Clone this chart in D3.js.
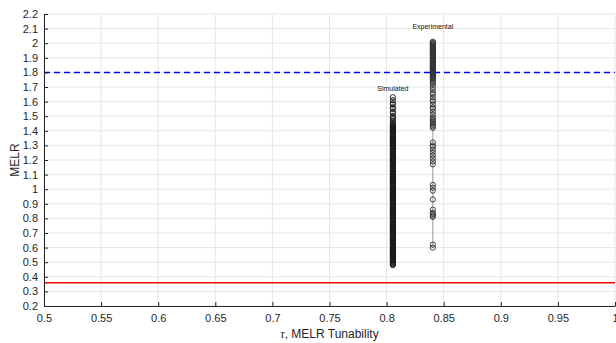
<!DOCTYPE html>
<html>
<head>
<meta charset="utf-8">
<script src="https://cdn.jsdelivr.net/npm/d3@7"></script>
<style>
  html, body { margin: 0; padding: 0; background: #fff; }
  svg { display: block; font-family: "Liberation Sans", Arial, sans-serif; }
</style>
</head>
<body>
<svg id="chart" width="616" height="343"></svg>
<script>
// Axis ticks
const xTicks = [0.5, 0.55, 0.6, 0.65, 0.7, 0.75, 0.8, 0.85, 0.9, 0.95, 1];
const yTicks = [0.2, 0.3, 0.4, 0.5, 0.6, 0.7, 0.8, 0.9, 1, 1.1, 1.2, 1.3, 1.4, 1.5, 1.6, 1.7, 1.8, 1.9, 2, 2.1, 2.2];

// Reference levels
const upperLimit = 1.8;   // blue dashed
const lowerLimit = 0.36;  // red solid

// Simulated runs
const simTau = 0.8055;
const simMELR = [
  1.63, 1.61, 1.59, 1.58, 1.56, 1.55, 1.53, 1.52, 1.50, 1.49, 1.48, 1.465, 1.455,
  1.445, 1.44, 1.435, 1.43, 1.425, 1.42, 1.415, 1.41, 1.405, 1.40, 1.395, 1.39, 1.385,
  1.38, 1.375, 1.37, 1.365, 1.36, 1.355, 1.35, 1.345, 1.34, 1.335, 1.33, 1.325, 1.32,
  1.315, 1.31, 1.305, 1.30, 1.295, 1.29, 1.285, 1.28, 1.275, 1.27, 1.265, 1.26, 1.255,
  1.25, 1.245, 1.24, 1.235, 1.23, 1.225, 1.22, 1.215, 1.21, 1.205, 1.20, 1.195, 1.19,
  1.185, 1.18, 1.175, 1.17, 1.165, 1.16, 1.155, 1.15, 1.145, 1.14, 1.135, 1.13, 1.125,
  1.12, 1.115, 1.11, 1.105, 1.10, 1.095, 1.09, 1.085, 1.08, 1.075, 1.07, 1.065, 1.06,
  1.055, 1.05, 1.045, 1.04, 1.035, 1.03, 1.025, 1.02, 1.015, 1.01, 1.005, 1.00, 0.995,
  0.99, 0.985, 0.98, 0.975, 0.97, 0.965, 0.96, 0.955, 0.95, 0.945, 0.94, 0.935, 0.93,
  0.925, 0.92, 0.915, 0.91, 0.905, 0.90, 0.895, 0.89, 0.885, 0.88, 0.875, 0.87, 0.865,
  0.86, 0.855, 0.85, 0.845, 0.84, 0.835, 0.83, 0.825, 0.82, 0.815, 0.81, 0.805, 0.80,
  0.795, 0.79, 0.785, 0.78, 0.775, 0.77, 0.765, 0.76, 0.755, 0.75, 0.745, 0.74, 0.735,
  0.73, 0.725, 0.72, 0.715, 0.71, 0.705, 0.70, 0.695, 0.69, 0.685, 0.68, 0.675, 0.67,
  0.665, 0.66, 0.655, 0.65, 0.645, 0.64, 0.635, 0.63, 0.625, 0.62, 0.615, 0.61, 0.605,
  0.60, 0.595, 0.59, 0.585, 0.58, 0.575, 0.57, 0.565, 0.56, 0.555, 0.55, 0.545, 0.54,
  0.535, 0.53, 0.525, 0.52, 0.515, 0.51, 0.505, 0.50, 0.495, 0.49, 0.485, 0.48
];

// Experimental runs
const expTau = 0.8405;
const expMELR = [
  2.01, 2.005, 2.00, 1.995, 1.99, 1.985, 1.98, 1.975, 1.97, 1.965, 1.96, 1.955, 1.95,
  1.945, 1.94, 1.935, 1.93, 1.925, 1.92, 1.915, 1.91, 1.905, 1.90, 1.895, 1.89, 1.885,
  1.88, 1.875, 1.87, 1.865, 1.86, 1.855, 1.85, 1.845, 1.84, 1.835, 1.83, 1.825, 1.82,
  1.815, 1.81, 1.805, 1.80, 1.795, 1.79, 1.785, 1.78, 1.775, 1.77, 1.765, 1.76, 1.75,
  1.74, 1.73, 1.72, 1.70, 1.68, 1.66, 1.65, 1.63, 1.61, 1.60, 1.58, 1.56, 1.55, 1.53,
  1.51, 1.49, 1.48, 1.47, 1.46, 1.45, 1.44, 1.43, 1.42,
  1.32, 1.30, 1.29, 1.27, 1.25, 1.23, 1.21, 1.19, 1.17,
  1.03, 1.01, 0.99, 0.93,
  0.86, 0.84, 0.83, 0.82, 0.81,
  0.62, 0.60
];

const svg = d3.select("#chart");
const margin = { left: 44, right: 1, top: 14, bottom: 37 };
const W = 616, H = 343;
const x = d3.scaleLinear().domain([0.5, 1]).range([margin.left, W - margin.right]);
const y = d3.scaleLinear().domain([0.2, 2.2]).range([H - margin.bottom, margin.top]);

const axisColor = "#262626";
const gridColor = "#e6e6e6";

// Grid
const grid = svg.append("g");
grid.selectAll("line.gx").data(xTicks).join("line")
  .attr("x1", d => x(d)).attr("x2", d => x(d))
  .attr("y1", y(0.2)).attr("y2", y(2.2))
  .attr("stroke", gridColor).attr("stroke-width", 1);
grid.selectAll("line.gy").data(yTicks).join("line")
  .attr("x1", x(0.5)).attr("x2", x(1))
  .attr("y1", d => y(d)).attr("y2", d => y(d))
  .attr("stroke", gridColor).attr("stroke-width", 1);

// Reference lines
svg.append("line")
  .attr("x1", x(0.5)).attr("x2", x(1))
  .attr("y1", y(upperLimit)).attr("y2", y(upperLimit))
  .attr("stroke", "#0000ff").attr("stroke-width", 1.5)
  .attr("stroke-dasharray", "6,4");
svg.append("line")
  .attr("x1", x(0.5)).attr("x2", x(1))
  .attr("y1", y(lowerLimit)).attr("y2", y(lowerLimit))
  .attr("stroke", "#ff0000").attr("stroke-width", 1.5);

// Series: markers joined by a thin line
function series(tau, values, color) {
  const g = svg.append("g");
  const ext = d3.extent(values);
  g.append("line")
    .attr("x1", x(tau)).attr("x2", x(tau))
    .attr("y1", y(ext[0])).attr("y2", y(ext[1]))
    .attr("stroke", "#999").attr("stroke-width", 1);
  g.selectAll("circle").data(values).join("circle")
    .attr("cx", x(tau)).attr("cy", d => y(d)).attr("r", 2.6)
    .attr("fill", "none").attr("stroke", color).attr("stroke-width", 0.9);
  return g;
}
series(simTau, simMELR, "#1a1a1a");
series(expTau, expMELR, "#333");

// Series labels
svg.append("text").attr("x", x(simTau)).attr("y", y(d3.max(simMELR)) - 6)
  .attr("text-anchor", "middle").attr("font-size", 7).attr("fill", "#111")
  .text("Simulated");
svg.append("text").attr("x", x(expTau)).attr("y", y(d3.max(expMELR)) - 13)
  .attr("text-anchor", "middle").attr("font-size", 7).attr("fill", "#111")
  .text("Experimental");

// Axes (ticks pointing inward)
const xAxis = d3.axisBottom(x).tickValues(xTicks).tickFormat(d3.format("~g"))
  .tickSizeInner(-4).tickSizeOuter(0).tickPadding(8);
const yAxis = d3.axisLeft(y).tickValues(yTicks).tickFormat(d3.format("~g"))
  .tickSizeInner(-4).tickSizeOuter(0).tickPadding(6);

const gx = svg.append("g").attr("transform", `translate(0,${y(0.2)})`).call(xAxis);
const gy = svg.append("g").attr("transform", `translate(${x(0.5)},0)`).call(yAxis);
[gx, gy].forEach(g => {
  g.select(".domain").attr("stroke", axisColor);
  g.selectAll(".tick line").attr("stroke", axisColor);
  g.selectAll(".tick text").attr("fill", axisColor)
    .attr("font-size", 11).attr("font-family", "Liberation Sans, Arial, sans-serif");
});

// Axis titles
const xl = svg.append("text").attr("x", (x(0.5) + x(1)) / 2).attr("y", 338)
  .attr("text-anchor", "middle").attr("font-size", 12).attr("fill", axisColor);
xl.append("tspan").attr("font-family", "Liberation Serif, serif").attr("font-style", "italic").text("τ");
xl.append("tspan").text(", MELR Tunability");

svg.append("text")
  .attr("transform", `translate(19,${(y(0.2) + y(2.2)) / 2}) rotate(-90)`)
  .attr("text-anchor", "middle").attr("font-size", 12).attr("fill", axisColor)
  .text("MELR");
</script>
</body>
</html>
